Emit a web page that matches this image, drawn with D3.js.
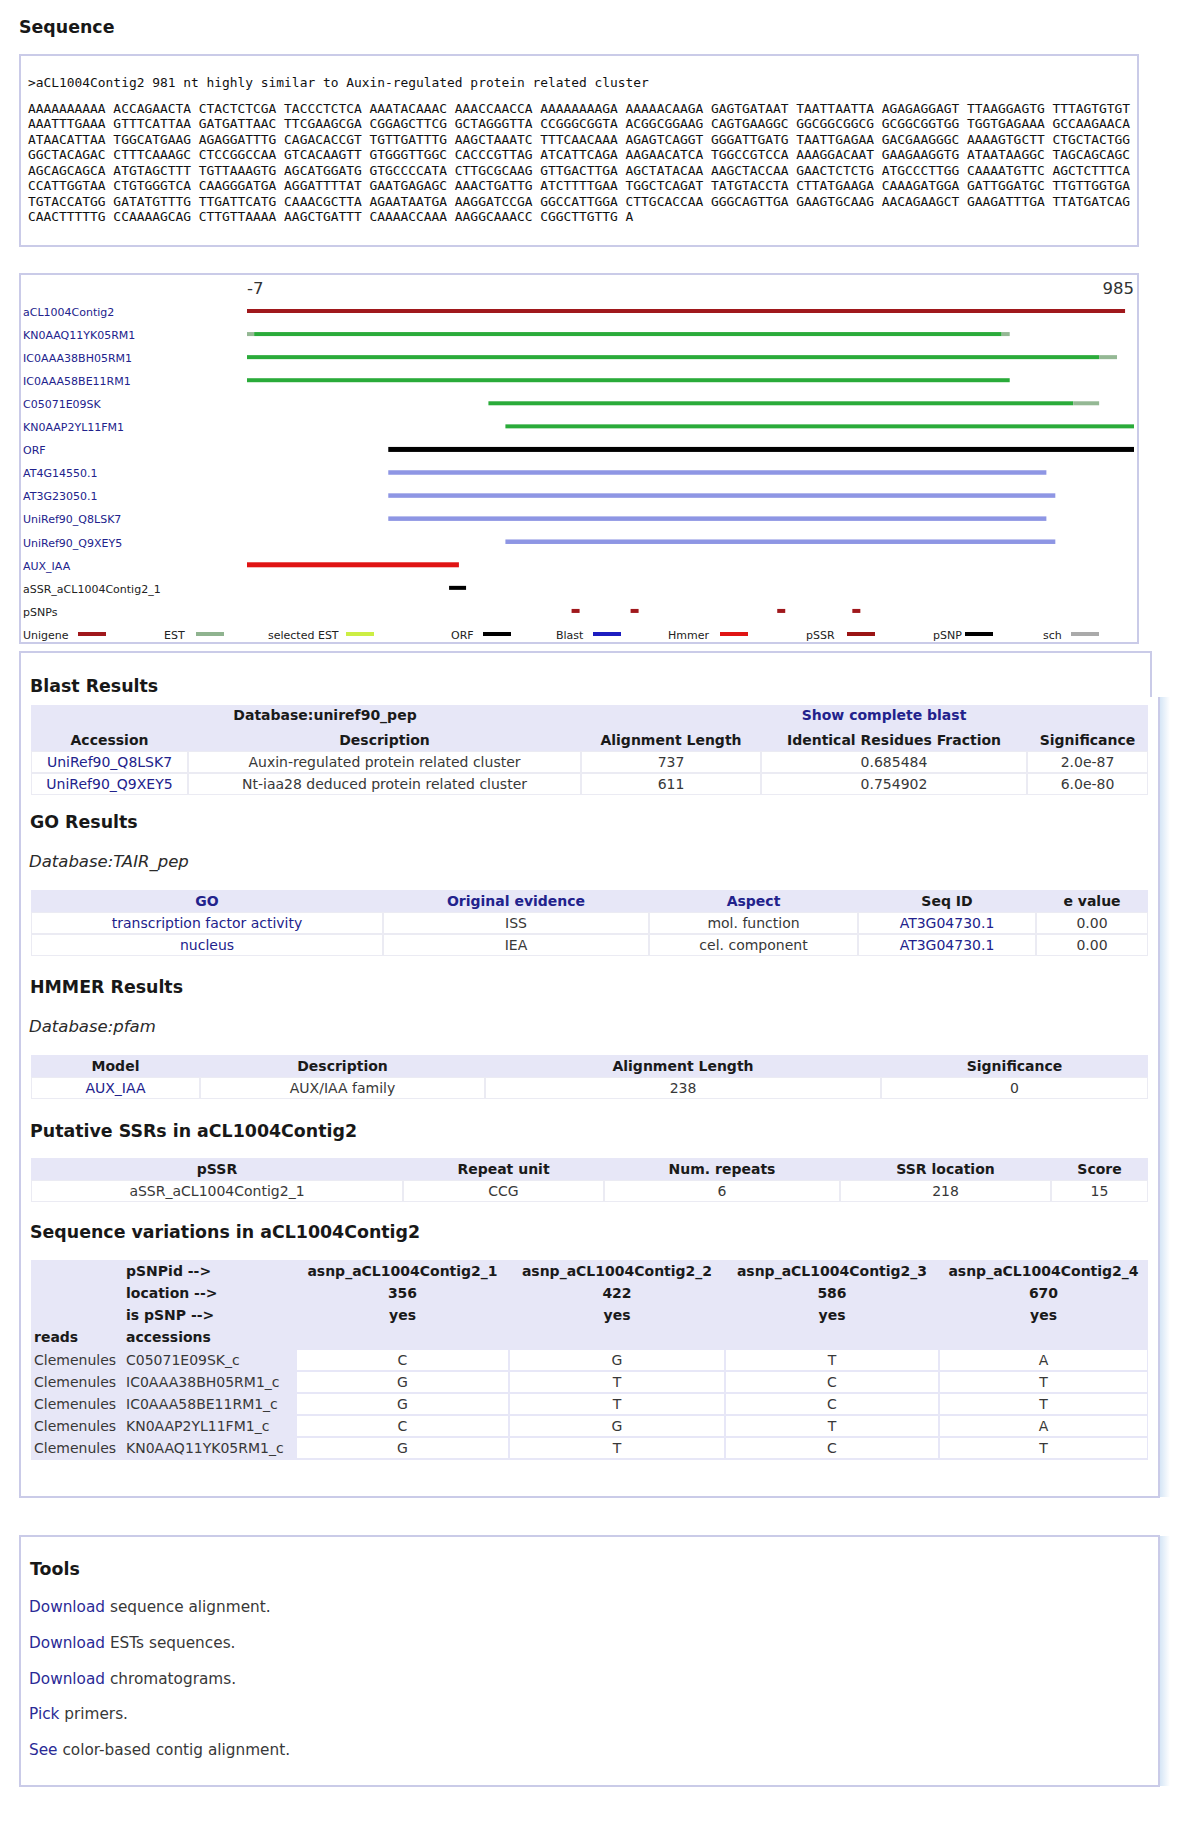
<!DOCTYPE html>
<html><head><meta charset="utf-8">
<script src="https://cdn.jsdelivr.net/npm/d3@7"></script>
<style>html,body{margin:0;padding:0;background:#fff;} svg{display:block;}</style>
</head><body><svg id="c" width="1200" height="1827"></svg>
<script>
// ---------------- DATA ----------------
const seqHeader = ">aCL1004Contig2 981 nt highly similar to Auxin-regulated protein related cluster";
const seqLines = [
"AAAAAAAAAA ACCAGAACTA CTACTCTCGA TACCCTCTCA AAATACAAAC AAACCAACCA AAAAAAAAGA AAAAACAAGA GAGTGATAAT TAATTAATTA AGAGAGGAGT TTAAGGAGTG TTTAGTGTGT",
"AAATTTGAAA GTTTCATTAA GATGATTAAC TTCGAAGCGA CGGAGCTTCG GCTAGGGTTA CCGGGCGGTA ACGGCGGAAG CAGTGAAGGC GGCGGCGGCG GCGGCGGTGG TGGTGAGAAA GCCAAGAACA",
"ATAACATTAA TGGCATGAAG AGAGGATTTG CAGACACCGT TGTTGATTTG AAGCTAAATC TTTCAACAAA AGAGTCAGGT GGGATTGATG TAATTGAGAA GACGAAGGGC AAAAGTGCTT CTGCTACTGG",
"GGCTACAGAC CTTTCAAAGC CTCCGGCCAA GTCACAAGTT GTGGGTTGGC CACCCGTTAG ATCATTCAGA AAGAACATCA TGGCCGTCCA AAAGGACAAT GAAGAAGGTG ATAATAAGGC TAGCAGCAGC",
"AGCAGCAGCA ATGTAGCTTT TGTTAAAGTG AGCATGGATG GTGCCCCATA CTTGCGCAAG GTTGACTTGA AGCTATACAA AAGCTACCAA GAACTCTCTG ATGCCCTTGG CAAAATGTTC AGCTCTTTCA",
"CCATTGGTAA CTGTGGGTCA CAAGGGATGA AGGATTTTAT GAATGAGAGC AAACTGATTG ATCTTTTGAA TGGCTCAGAT TATGTACCTA CTTATGAAGA CAAAGATGGA GATTGGATGC TTGTTGGTGA",
"TGTACCATGG GATATGTTTG TTGATTCATG CAAACGCTTA AGAATAATGA AAGGATCCGA GGCCATTGGA CTTGCACCAA GGGCAGTTGA GAAGTGCAAG AACAGAAGCT GAAGATTTGA TTATGATCAG",
"CAACTTTTTG CCAAAAGCAG CTTGTTAAAA AAGCTGATTT CAAAACCAAA AAGGCAAACC CGGCTTGTTG A"
];

const axisEnds = [-7, 985];
const trackNames = ["aCL1004Contig2","KN0AAQ11YK05RM1","IC0AAA38BH05RM1","IC0AAA58BE11RM1","C05071E09SK","KN0AAP2YL11FM1","ORF","AT4G14550.1","AT3G23050.1","UniRef90_Q8LSK7","UniRef90_Q9XEY5","AUX_IAA","aSSR_aCL1004Contig2_1","pSNPs"];
const trackIsLink = [true,true,true,true,true,true,true,true,true,true,true,true,false,false];
// alignment segments (track index, start, end, kind)
const segTrack = [0, 1,1,1, 2,2, 3, 4,4, 5, 6, 7, 8, 9, 10, 11, 12];
const segStart = [-7, -7,1,837, -7,946, -7, 263,917, 282, 151, 151,151,151,282, -7, 219];
const segEnd   = [975, 1,837,846, 946,966, 846, 917,946, 985, 985, 887,897,887,897, 230, 238];
const segKind  = ["unigene","sch","est","sch","est","sch","est","est","sch","est","orf","blast","blast","blast","blast","hmmer","ssrBar"];

const legendNames = ["Unigene","EST","selected EST","ORF","Blast","Hmmer","pSSR","pSNP","sch"];
const legendKinds = ["unigene","estLegend","selEst","orf","blastLegend","hmmer","pssr","psnp","schLegend"];

const blastColumns = ["Accession","Description","Alignment Length","Identical Residues Fraction","Significance"];
const blastAccession = ["UniRef90_Q8LSK7","UniRef90_Q9XEY5"];
const blastDescription = ["Auxin-regulated protein related cluster","Nt-iaa28 deduced protein related cluster"];
const blastAlignLength = [737, 611];
const blastIdentity = ["0.685484","0.754902"];
const blastSignificance = ["2.0e-87","6.0e-80"];

const goColumns = ["GO","Original evidence","Aspect","Seq ID","e value"];
const goTerm = ["transcription factor activity","nucleus"];
const goEvidence = ["ISS","IEA"];
const goAspect = ["mol. function","cel. component"];
const goSeqId = ["AT3G04730.1","AT3G04730.1"];
const goEvalue = ["0.00","0.00"];

const hmmerColumns = ["Model","Description","Alignment Length","Significance"];
const hmmerModel = ["AUX_IAA"];
const hmmerDescription = ["AUX/IAA family"];
const hmmerAlignLength = [238];
const hmmerSignificance = ["0"];

const ssrColumns = ["pSSR","Repeat unit","Num. repeats","SSR location","Score"];
const ssrName = ["aSSR_aCL1004Contig2_1"];
const ssrUnit = ["CCG"];
const ssrRepeats = [6];
const ssrLocation = [218];
const ssrScore = [15];

const snpIds = ["asnp_aCL1004Contig2_1","asnp_aCL1004Contig2_2","asnp_aCL1004Contig2_3","asnp_aCL1004Contig2_4"];
const snpLocations = [356, 422, 586, 670];
const snpIsPSNP = ["yes","yes","yes","yes"];
const snpReadLib = ["Clemenules","Clemenules","Clemenules","Clemenules","Clemenules"];
const snpAccessions = ["C05071E09SK_c","IC0AAA38BH05RM1_c","IC0AAA58BE11RM1_c","KN0AAP2YL11FM1_c","KN0AAQ11YK05RM1_c"];
const snpBases = [["C","G","T","A"],["G","T","C","T"],["G","T","C","T"],["C","G","T","A"],["G","T","C","T"]];

const toolLink = ["Download","Download","Download","Pick","See"];
const toolRest = [" sequence alignment."," ESTs sequences."," chromatograms."," primers."," color-based contig alignment."];

// ---------------- STYLE / LAYOUT ----------------
const FONT = "'DejaVu Sans', Verdana, sans-serif";
const MONO = "'DejaVu Sans Mono', monospace";
const NAVY = "#22228c";
const TXT = "#383838";
const BORDER = "#cacbe8";
const LAV = "#e7e7f7";
const GAP = "#ebebf3";
const kindStyle = {
  unigene:{c:"#a0181c",w:4}, est:{c:"#2aab3a",w:4}, sch:{c:"#94b894",w:4}, orf:{c:"#000",w:5},
  blast:{c:"#8e96e4",w:4.5}, hmmer:{c:"#e01414",w:5}, ssrBar:{c:"#000",w:4}, pssr:{c:"#9a1414",w:4}, psnp:{c:"#000",w:4},
  estLegend:{c:"#8fb38f",w:4}, selEst:{c:"#ccee44",w:4}, blastLegend:{c:"#1d1dc0",w:4}, schLegend:{c:"#aaaaaa",w:4}
};

const svg = d3.select("#c");
const defs = svg.append("defs");
const grad = defs.append("linearGradient").attr("id","haze").attr("x1","0").attr("x2","1").attr("y1","0").attr("y2","0");
grad.append("stop").attr("offset","0").attr("stop-color","#d6e6f6");
grad.append("stop").attr("offset","1").attr("stop-color","#ffffff");

function heading(x, y, t) {
  svg.append("text").attr("x", x).attr("y", y).attr("dy","0.35em")
    .attr("font-family", FONT).attr("font-weight","bold").attr("font-size", 17.4)
    .attr("fill","#181818").text(t);
}
function italicLine(x, y, t) {
  svg.append("text").attr("x", x).attr("y", y).attr("dy","0.35em")
    .attr("font-family", FONT).attr("font-style","italic").attr("font-size", 16.5)
    .attr("fill","#2a2a2a").text(t);
}
function txt(g, x, y, t, o) {
  o = o || {};
  return g.append("text").attr("x", x).attr("y", y).attr("dy","0.35em")
    .attr("font-family", o.mono ? MONO : FONT)
    .attr("font-size", o.size || 14)
    .attr("font-weight", o.bold ? "bold" : "normal")
    .attr("text-anchor", o.anchor || "start")
    .attr("fill", o.color || TXT).text(t);
}

// ---------------- SEQUENCE ----------------
heading(19, 27, "Sequence");
svg.append("rect").attr("x",20).attr("y",55).attr("width",1118).attr("height",191)
  .attr("fill","#fff").attr("stroke",BORDER).attr("stroke-width",2);
const seqG = svg.append("g");
txt(seqG, 28, 82, seqHeader, {mono:true, size:12.9, color:"#111"});
seqG.selectAll("text.seq").data(seqLines).join("text").attr("class","seq")
  .attr("x", 28).attr("y", (d,i) => 108.5 + i*15.45).attr("dy","0.35em")
  .attr("font-family", MONO).attr("font-size", 12.9).attr("fill","#111")
  .text(d => d);

// ---------------- ALIGNMENT GRAPHIC ----------------
svg.append("rect").attr("x",20).attr("y",274).attr("width",1118).attr("height",369)
  .attr("fill","#fff").attr("stroke",BORDER).attr("stroke-width",2);
const x = d3.scaleLinear().domain(axisEnds).range([247, 1134]);
const rowIdx = d3.range(trackNames.length + 1);
const y = d3.scalePoint().domain(rowIdx).range([311, 634]);
const alG = svg.append("g");
txt(alG, x(axisEnds[0]), 288, String(axisEnds[0]), {size:16.5, color:"#333"});
txt(alG, x(axisEnds[1]), 288, String(axisEnds[1]), {size:16.5, color:"#333", anchor:"end"});

alG.selectAll("text.lab").data(trackNames).join("text").attr("class","lab")
  .attr("x", 23).attr("y", (d,i) => y(i) + 1).attr("dy","0.35em")
  .attr("font-family", FONT).attr("font-size", 11)
  .attr("fill", (d,i) => trackIsLink[i] ? NAVY : "#222").text(d => d);

const segs = segTrack.map((t,i) => ({t, s:segStart[i], e:segEnd[i], k:segKind[i]}));
alG.selectAll("rect.seg").data(segs).join("rect").attr("class","seg")
  .attr("x", d => x(d.s)).attr("width", d => x(d.e) - x(d.s))
  .attr("y", d => y(d.t) - kindStyle[d.k].w/2).attr("height", d => kindStyle[d.k].w)
  .attr("fill", d => kindStyle[d.k].c);

const snpRow = trackNames.indexOf("pSNPs");
alG.selectAll("rect.snp").data(snpLocations).join("rect").attr("class","snp")
  .attr("x", d => x(d)).attr("width", 8)
  .attr("y", y(snpRow) - 2).attr("height", 4).attr("fill", kindStyle.unigene.c);

const legendRow = trackNames.length;
const legendTextX = [23,164,268,451,556,668,806,933,1043];
const legendSwatchX = [78,196,346,483,593,720,847,965,1071];
legendNames.forEach((n,i) => {
  txt(alG, legendTextX[i], y(legendRow)+1, n, {size:11, color:"#222"});
  alG.append("rect").attr("x", legendSwatchX[i]).attr("width", 28)
    .attr("y", y(legendRow) - 2).attr("height", 4).attr("fill", kindStyle[legendKinds[i]].c);
});

// ---------------- RESULTS BOX ----------------
const box = svg.append("g").attr("fill","none").attr("stroke",BORDER).attr("stroke-width",2);
svg.insert("rect", ":first-child").attr("x",1160).attr("y",697).attr("width",10).attr("height",800).attr("fill","url(#haze)");
box.append("path").attr("d","M1151,697 V652 H20 V1497 H1159 V697");
svg.insert("rect", ":first-child").attr("x",1160).attr("y",1536).attr("width",10).attr("height",250).attr("fill","url(#haze)");
box.append("rect").attr("x",20).attr("y",1536).attr("width",1139).attr("height",250);

function tableFrame(edges, top, headBottom, bottom, rowCenters, whiteFrom) {
  const g = svg.append("g");
  g.append("rect").attr("x", edges[0]).attr("y", top).attr("width", edges[edges.length-1]-edges[0])
    .attr("height", headBottom - top).attr("fill", LAV);
  g.append("rect").attr("x", edges[0]).attr("y", headBottom).attr("width", edges[edges.length-1]-edges[0])
    .attr("height", bottom - headBottom).attr("fill", whiteFrom > 0 ? LAV : GAP);
  rowCenters.forEach(cy => {
    for (let j = whiteFrom; j < edges.length-1; j++) {
      g.append("rect").attr("x", edges[j]+1).attr("y", cy-10).attr("width", edges[j+1]-edges[j]-2)
        .attr("height", 20).attr("fill","#fff");
    }
  });
  return g;
}
const mid = (e, j) => (e[j] + e[j+1]) / 2;

// Blast
heading(30, 686, "Blast Results");
{
  const e = [31,188,581,761,1027,1148];
  const rows = [762, 784];
  const g = tableFrame(e, 705, 751, 795, rows, 0);
  txt(g, 325, 715, "Database:uniref90_pep", {bold:true, anchor:"middle", color:"#1a1a1a"});
  txt(g, 884, 715, "Show complete blast", {bold:true, anchor:"middle", color:NAVY});
  blastColumns.forEach((c,j) => txt(g, mid(e,j), 740, c, {bold:true, anchor:"middle", color:"#1a1a1a"}));
  rows.forEach((cy,i) => {
    txt(g, mid(e,0), cy, blastAccession[i], {anchor:"middle", color:NAVY});
    txt(g, mid(e,1), cy, blastDescription[i], {anchor:"middle"});
    txt(g, mid(e,2), cy, String(blastAlignLength[i]), {anchor:"middle"});
    txt(g, mid(e,3), cy, blastIdentity[i], {anchor:"middle"});
    txt(g, mid(e,4), cy, blastSignificance[i], {anchor:"middle"});
  });
}

// GO
heading(30, 822, "GO Results");
italicLine(29, 861, "Database:TAIR_pep");
{
  const e = [31,383,649,858,1036,1148];
  const rows = [923, 945];
  const g = tableFrame(e, 890, 912, 956, rows, 0);
  const hc = [NAVY, NAVY, NAVY, "#1a1a1a", "#1a1a1a"];
  goColumns.forEach((c,j) => txt(g, mid(e,j), 901, c, {bold:true, anchor:"middle", color:hc[j]}));
  rows.forEach((cy,i) => {
    txt(g, mid(e,0), cy, goTerm[i], {anchor:"middle", color:NAVY});
    txt(g, mid(e,1), cy, goEvidence[i], {anchor:"middle"});
    txt(g, mid(e,2), cy, goAspect[i], {anchor:"middle"});
    txt(g, mid(e,3), cy, goSeqId[i], {anchor:"middle", color:NAVY});
    txt(g, mid(e,4), cy, goEvalue[i], {anchor:"middle"});
  });
}

// HMMER
heading(30, 987, "HMMER Results");
italicLine(29, 1026, "Database:pfam");
{
  const e = [31,200,485,881,1148];
  const rows = [1088];
  const g = tableFrame(e, 1055, 1077, 1099, rows, 0);
  hmmerColumns.forEach((c,j) => txt(g, mid(e,j), 1066, c, {bold:true, anchor:"middle", color:"#1a1a1a"}));
  rows.forEach((cy,i) => {
    txt(g, mid(e,0), cy, hmmerModel[i], {anchor:"middle", color:NAVY});
    txt(g, mid(e,1), cy, hmmerDescription[i], {anchor:"middle"});
    txt(g, mid(e,2), cy, String(hmmerAlignLength[i]), {anchor:"middle"});
    txt(g, mid(e,3), cy, hmmerSignificance[i], {anchor:"middle"});
  });
}

// SSR
heading(30, 1131, "Putative SSRs in aCL1004Contig2");
{
  const e = [31,403,604,840,1051,1148];
  const rows = [1191];
  const g = tableFrame(e, 1158, 1180, 1202, rows, 0);
  ssrColumns.forEach((c,j) => txt(g, mid(e,j), 1169, c, {bold:true, anchor:"middle", color:"#1a1a1a"}));
  rows.forEach((cy,i) => {
    txt(g, mid(e,0), cy, ssrName[i], {anchor:"middle"});
    txt(g, mid(e,1), cy, ssrUnit[i], {anchor:"middle"});
    txt(g, mid(e,2), cy, String(ssrRepeats[i]), {anchor:"middle"});
    txt(g, mid(e,3), cy, String(ssrLocation[i]), {anchor:"middle"});
    txt(g, mid(e,4), cy, String(ssrScore[i]), {anchor:"middle"});
  });
}

// SNP
heading(30, 1232, "Sequence variations in aCL1004Contig2");
{
  const e = [31,296,509,725,939,1148];
  const rows = [1360,1382,1404,1426,1448];
  const g = tableFrame(e, 1260, 1349, 1460, rows, 1);
  const B = {bold:true, color:"#1a1a1a"};
  txt(g, 126, 1271, "pSNPid -->", B);
  txt(g, 126, 1293, "location -->", B);
  txt(g, 126, 1315, "is pSNP -->", B);
  txt(g, 34, 1337, "reads", B);
  txt(g, 126, 1337, "accessions", B);
  snpIds.forEach((s,j) => {
    txt(g, mid(e,j+1), 1271, s, {bold:true, anchor:"middle", color:"#1a1a1a"});
    txt(g, mid(e,j+1), 1293, String(snpLocations[j]), {bold:true, anchor:"middle", color:"#1a1a1a"});
    txt(g, mid(e,j+1), 1315, snpIsPSNP[j], {bold:true, anchor:"middle", color:"#1a1a1a"});
  });
  rows.forEach((cy,i) => {
    txt(g, 34, cy, snpReadLib[i]);
    txt(g, 126, cy, snpAccessions[i]);
    snpBases[i].forEach((b,j) => txt(g, mid(e,j+1), cy, b, {anchor:"middle"}));
  });
}

// ---------------- TOOLS ----------------
heading(30, 1569, "Tools");
toolLink.forEach((l,i) => {
  const t = svg.append("text").attr("x", 29).attr("y", 1607 + i*35.7).attr("dy","0.35em")
    .attr("font-family", FONT).attr("font-size", 15.3);
  t.append("tspan").attr("fill", "#2a2a96").text(l);
  t.append("tspan").attr("fill", TXT).text(toolRest[i]);
});
</script>
</body></html>
